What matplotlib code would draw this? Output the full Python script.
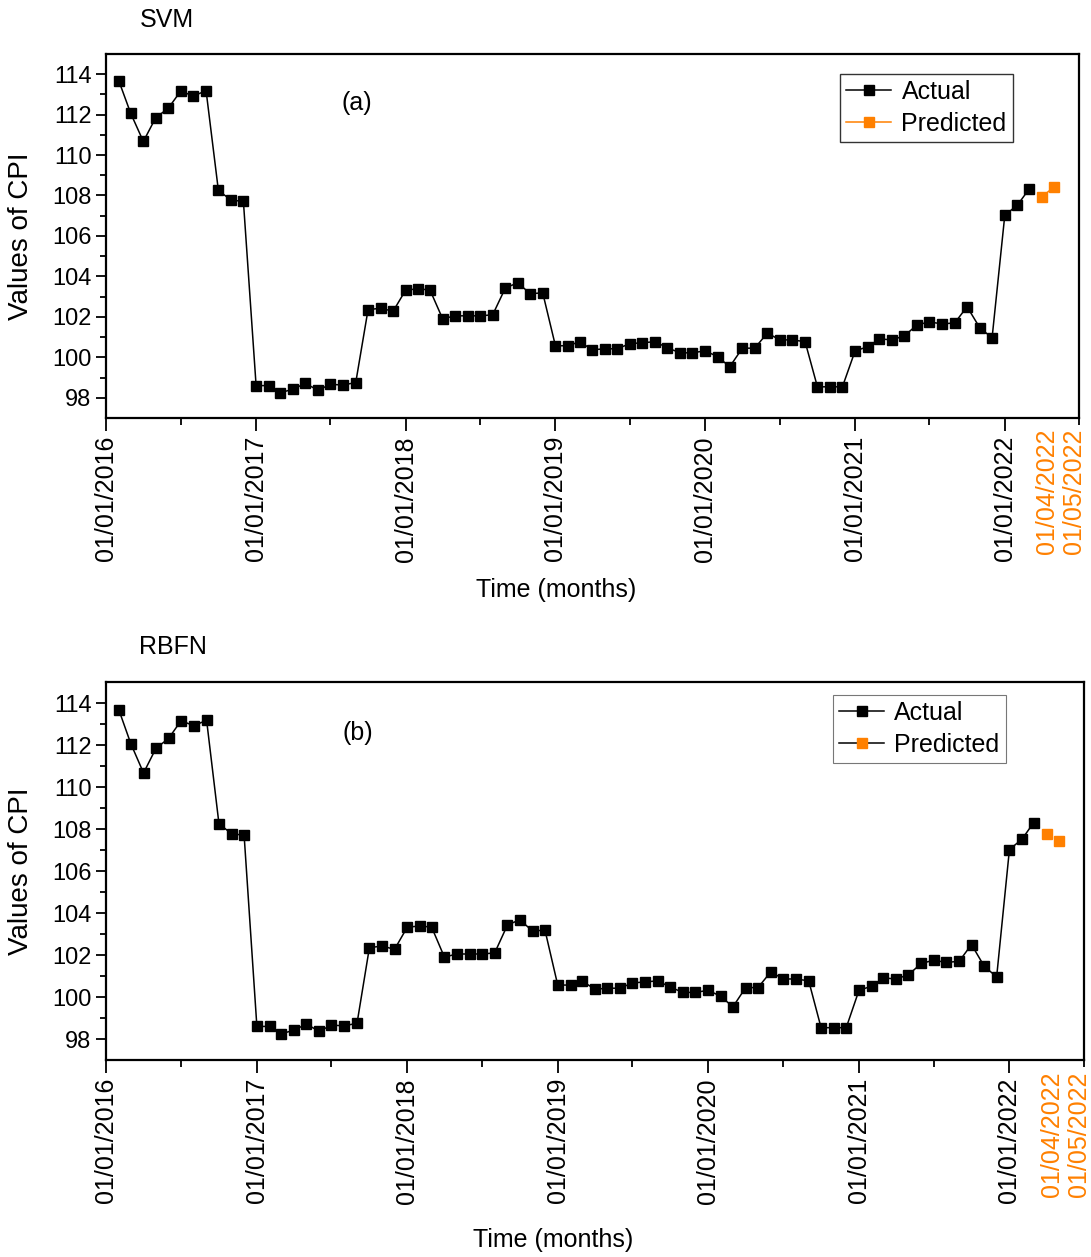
import matplotlib
matplotlib.use("Agg")
import matplotlib.pyplot as plt
import matplotlib.dates as mdates
from matplotlib.lines import Line2D
from matplotlib.transforms import blended_transform_factory
import pandas as pd

plt.rcParams['font.family'] = ['Liberation Sans', 'DejaVu Sans']

# monthly CPI, Feb 2016 .. Mar 2022
actual_start = '2016-02-01'
actual = [113.68, 112.07, 110.67, 111.84, 112.32, 113.16, 112.92, 113.18, 108.25, 107.77, 107.71,
          98.60, 98.60, 98.25, 98.42, 98.71, 98.37, 98.66, 98.63, 98.75, 102.35, 102.43, 102.27,
          103.33, 103.38, 103.33, 101.90, 102.05, 102.05, 102.05, 102.10, 103.43, 103.68, 103.14, 103.19,
          100.57, 100.57, 100.77, 100.37, 100.42, 100.42, 100.67, 100.72, 100.77, 100.47, 100.22, 100.22,
          100.32, 100.03, 99.53, 100.45, 100.45, 101.20, 100.86, 100.86, 100.77, 98.54, 98.54, 98.54,
          100.32, 100.52, 100.91, 100.86, 101.06, 101.60, 101.75, 101.65, 101.70, 102.50, 101.46, 100.96,
          107.02, 107.53, 108.31]
pred_dates = ['2022-04-01', '2022-05-01']
pred_svm = [107.93, 108.42]
pred_rbfn = [107.78, 107.45]
pred_labels = ['01/04/2022', '01/05/2022']

panels = ['SVM', 'RBFN']
letters = ['(a)', '(b)']
orange = '#ff8000'

x_act = pd.date_range(actual_start, periods=len(actual), freq='MS')
x_pred = pd.to_datetime(pred_dates)

fig = plt.figure(figsize=(10.91, 12.57), dpi=100)
ax_top = fig.add_axes([0.0972, 0.6675, 0.8918, 0.2896])
ax_bot = fig.add_axes([0.0972, 0.1567, 0.8964, 0.3007])

def style_axis(ax):
    ax.set_xlim(pd.Timestamp('2016-01-01'), pd.Timestamp('2022-07-01'))
    ax.set_ylim(97, 115)
    ax.xaxis.set_major_locator(mdates.YearLocator())
    ax.xaxis.set_minor_locator(mdates.MonthLocator(bymonth=7))
    ax.xaxis.set_major_formatter(mdates.DateFormatter('%d/%m/%Y'))
    ax.set_yticks(range(98, 115, 2))
    ax.set_yticks(range(99, 115, 2), minor=True)
    ax.tick_params(axis='x', which='major', direction='out', length=9, width=1.3,
                   labelsize=18, labelrotation=90, pad=4)
    ax.tick_params(axis='x', which='minor', direction='out', length=5, width=1.3)
    ax.tick_params(axis='y', which='major', direction='out', length=7, width=1.3, labelsize=17)
    ax.tick_params(axis='y', which='minor', direction='out', length=4, width=1.3)
    for s in ax.spines.values():
        s.set_linewidth(1.6)
    ax.set_ylabel('Values of CPI', fontsize=20)
    ax.yaxis.set_label_coords(-0.074, 0.5)
    ax.set_xlabel('Time (months)', fontsize=18)
    trans = blended_transform_factory(ax.transData, ax.transAxes)
    label_x = [pd.Timestamp('2022-04-15'), pd.Timestamp('2022-06-20')]
    for lx, lab in zip(label_x, pred_labels):
        ax.text(lx, -0.03, lab, transform=trans, rotation=90, ha='center', va='top',
                fontsize=18, color=orange)

mk = dict(marker='s', markersize=7.5)

# (a) SVM
ax = ax_top
ax.plot(x_act, actual, color='black', lw=1.1, mfc='black', mec='black', **mk, label='Actual')
ax.plot(x_pred, pred_svm, color=orange, lw=1.1, mfc=orange, mec=orange, **mk, label='Predicted')
style_axis(ax)
ax.xaxis.set_label_coords(0.4625, -0.44)
ax.legend(loc='upper right', bbox_to_anchor=(0.932, 0.945), fontsize=18, frameon=True,
          fancybox=False, edgecolor='black', handlelength=1.8, handletextpad=0.4,
          borderpad=0.25, labelspacing=0.3, borderaxespad=0)
ax.text(0.258, 0.865, letters[0], transform=ax.transAxes, fontsize=18, ha='center', va='center')

# (b) RBFN
ax = ax_bot
ax.plot(x_act, actual, color='black', lw=1.1, mfc='black', mec='black', **mk)
ax.plot(x_pred, pred_rbfn, linestyle='none', mfc=orange, mec=orange, **mk)
style_axis(ax)
ax.xaxis.set_label_coords(0.457, -0.444)
handles = [Line2D([], [], color='black', lw=1.1, mfc='black', mec='black', **mk),
           Line2D([], [], color='black', lw=1.1, mfc=orange, mec=orange, **mk)]
leg = ax.legend(handles, ['Actual', 'Predicted'], loc='upper right', bbox_to_anchor=(0.920, 0.966),
                fontsize=18, frameon=True, fancybox=False, edgecolor='#555555', handlelength=1.8,
                handletextpad=0.4, borderpad=0.25, labelspacing=0.3, borderaxespad=0)
leg.get_frame().set_linewidth(0.8)
ax.text(0.257, 0.865, letters[1], transform=ax.transAxes, fontsize=18, ha='center', va='center')

fig.text(167 / 1091, 1 - 20 / 1257, panels[0], fontsize=18, ha='center', va='center')
fig.text(173 / 1091, 1 - 647 / 1257, panels[1], fontsize=18, ha='center', va='center')

fig.savefig('out.png', dpi=100)
